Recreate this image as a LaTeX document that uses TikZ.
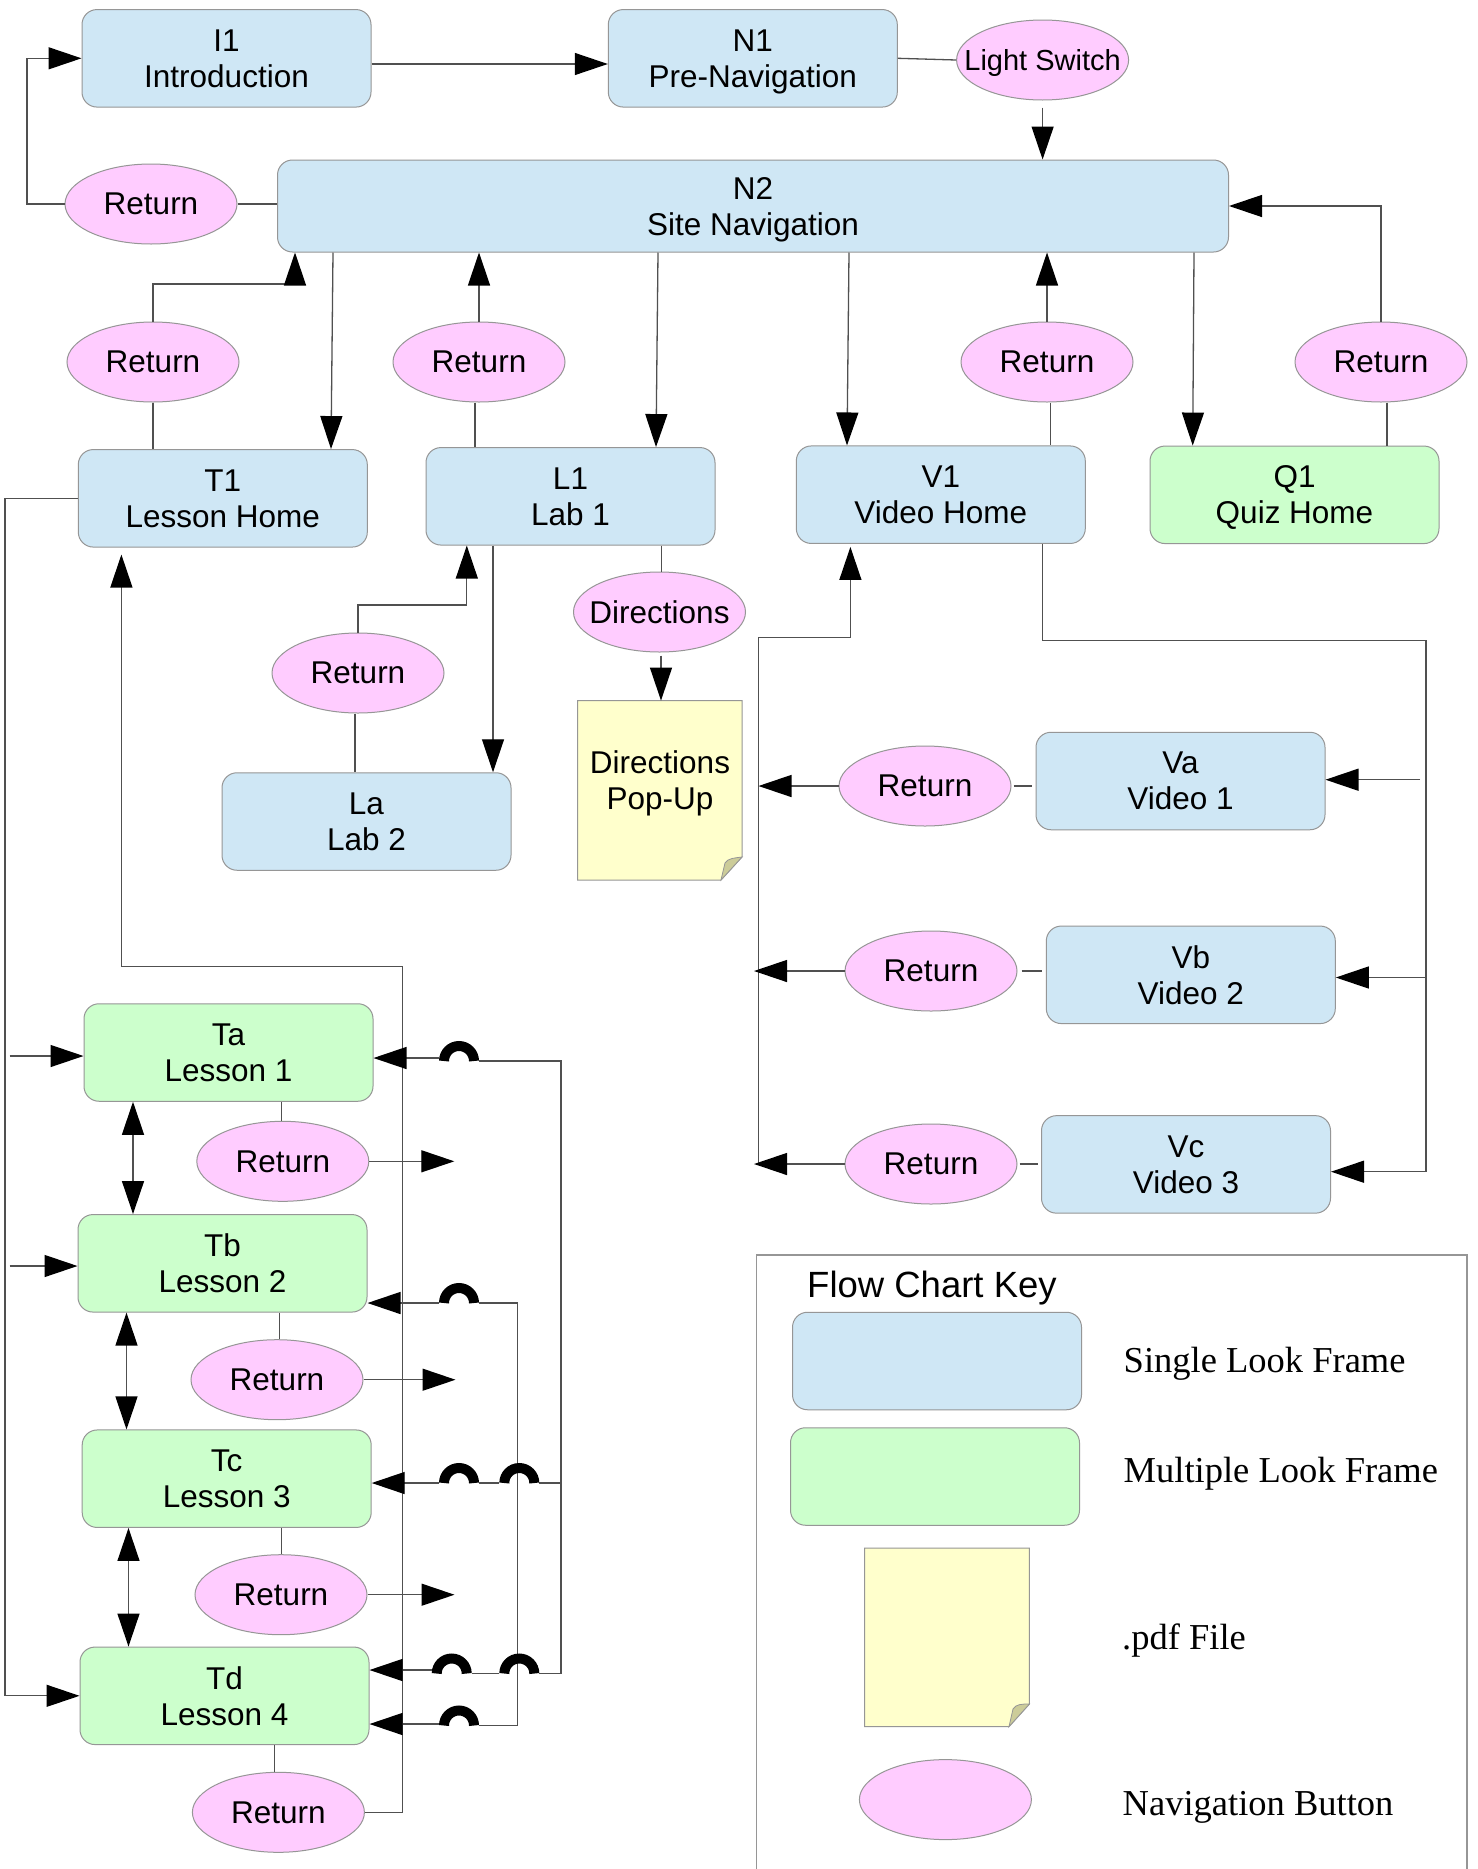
\documentclass[tikz,border=0pt]{standalone}
\usepackage{fontspec}
\setsansfont{Liberation Sans}
\newfontfamily\keyserif{Liberation Serif}
\usetikzlibrary{arrows.meta,shapes.geometric}
\definecolor{boxblue}{RGB}{207,231,245}
\definecolor{boxgreen}{RGB}{204,255,204}
\definecolor{btnpink}{RGB}{255,204,255}
\definecolor{docyellow}{RGB}{255,255,204}
\definecolor{foldtan}{RGB}{204,204,153}
\definecolor{bordergray}{RGB}{150,150,150}
\definecolor{linegray}{RGB}{80,80,80}
\newcommand\boxfont{\sffamily\fontsize{31.5}{36}\selectfont}
\newcommand\lsfont{\sffamily\fontsize{29}{34}\selectfont}
\newcommand\titlefont{\sffamily\fontsize{36.5}{42}\selectfont}
\newcommand\keyfont{\keyserif\fontsize{36.5}{42}\selectfont}
\newcommand\btn[1]{\makebox[0pt][c]{#1}}
\newcommand\jumparc[2]{\draw[jump] (#1-15,#2) .. controls (#1-15,#2-8.3) and (#1-8.3,#2-15) .. (#1,#2-15) .. controls (#1+8.3,#2-15) and (#1+15,#2-8.3) .. (#1+15,#2);}
\tikzset{
  fr/.style={rounded corners=15pt, draw=bordergray, line width=1pt, minimum width=289pt, minimum height=97.5pt, inner sep=0pt, align=center, font=\boxfont, text depth=0pt},
  single/.style={fr, fill=boxblue},
  multi/.style={fr, fill=boxgreen},
  navbtn/.style={ellipse, draw=bordergray, line width=1pt, fill=btnpink, minimum width=172pt, minimum height=80pt, inner sep=0pt, font=\boxfont, text depth=0pt},
  ln/.style={draw=linegray, line width=1.3pt},
  arr/.style={ln, -{Triangle[length=33pt,width=22pt,color=black]}},
  dbl/.style={ln, {Triangle[length=33pt,width=22pt,color=black]}-{Triangle[length=33pt,width=22pt,color=black]}},
  jump/.style={draw=black, line width=10pt, line cap=butt},
  docshape/.style={fill=docyellow, draw=bordergray, line width=1pt},
  foldshape/.style={fill=foldtan, draw=bordergray, line width=0.8pt},
  keyframe/.style={draw=bordergray, line width=1.5pt},
  keytxt/.style={anchor=base west, font=\keyfont, inner sep=0pt}
}
\begin{document}
\begin{tikzpicture}[x=1pt,y=-1pt]
\fill[white] (0,0) rectangle (1478,1869);
\useasboundingbox (0,0) rectangle (1478,1869);

% ---------- nodes ----------
\node[single] (I1) at (226.5,58.3) {I1\\Introduction};
\node[single] (N1) at (752.8,58.3) {N1\\Pre-Navigation};
\node[navbtn, font=\lsfont] (LS) at (1042.6,60) {\btn{Light Switch}};
\node[single, minimum width=951pt, minimum height=92pt] (N2) at (753,206) {N2\\Site Navigation};
\node[navbtn] (RN2) at (151,204) {\btn{Return}};
\node[navbtn] (RT1) at (153,362) {\btn{Return}};
\node[navbtn] (RL1) at (479,362) {\btn{Return}};
\node[navbtn] (RV1) at (1047,362) {\btn{Return}};
\node[navbtn] (RQ1) at (1381,362) {\btn{Return}};
\node[single] (T1) at (222.8,498.3) {T1\\Lesson Home};
\node[single] (L1) at (570.5,496.3) {L1\\Lab 1};
\node[single] (V1) at (940.8,494.7) {V1\\Video Home};
\node[multi] (Q1) at (1294.5,494.8) {Q1\\Quiz Home};
\node[navbtn] (Dir) at (659.5,612) {\btn{Directions}};
\node[navbtn] (RLa) at (358,673) {\btn{Return}};
\node[single] (La) at (366.5,821.5) {La\\Lab 2};
\node[single] (Va) at (1180.5,781) {Va\\Video 1};
\node[navbtn] (RVa) at (925,786) {\btn{Return}};
\node[single] (Vb) at (1190.8,974.8) {Vb\\Video 2};
\node[navbtn] (RVb) at (931,971) {\btn{Return}};
\node[single] (Vc) at (1186,1164.4) {Vc\\Video 3};
\node[navbtn] (RVc) at (931,1164) {\btn{Return}};
\node[multi] (Ta) at (228.5,1052.5) {Ta\\Lesson 1};
\node[navbtn] (RTa) at (282.8,1161.3) {\btn{Return}};
\node[multi] (Tb) at (222.5,1263.3) {Tb\\Lesson 2};
\node[navbtn] (RTb) at (277,1379.7) {\btn{Return}};
\node[multi] (Tc) at (226.7,1478.7) {Tc\\Lesson 3};
\node[navbtn] (RTc) at (281,1594.7) {\btn{Return}};
\node[multi] (Td) at (224.5,1695.8) {Td\\Lesson 4};
\node[navbtn] (RTd) at (278.4,1812.3) {\btn{Return}};

% pop-up document
\filldraw[docshape] (577.7,700.7) -- (742,700.7) -- (742,857) -- (721,880) -- (577.7,880) -- cycle;
\filldraw[foldshape] (742,857) -- (721,880) -- (725,863) .. controls (728,858) and (735,858) .. cycle;
\node[minimum width=164pt, minimum height=179.3pt, inner sep=0pt] (PU) at (659.9,790.4) {};
\node[align=center, font=\boxfont, text depth=0pt] (PUt) at (660,780) {Directions\\Pop-Up};

% ---------- connectors: top ----------
\draw[arr] (I1.east |- 0,64) -- (N1.west |- 0,64);
\draw[ln] (N1.east) -- (LS.west);
\draw[arr, shorten <=7pt] (LS.south) -- (LS.south |- N2.north);
\draw[ln] (RN2.east) -- (N2.west |- RN2.east);
\coordinate (rn2c) at (27,204);
\draw[arr] (RN2.west) -- (rn2c) |- (I1.west);
\coordinate (rt1c) at (295,284);
\draw[arr] (RT1.north) |- (rt1c) -- (N2.south -| rt1c);
\draw[arr] (N2.south -| 333,0) -- (T1.north -| 331,0);
\draw[ln] (RT1.south) -- (RT1.south |- T1.north);
\draw[arr] (RL1.north) -- (RL1.north |- N2.south);
\draw[ln] (RL1.south -| 475,0) -- (L1.north -| 475,0);
\draw[arr] (N2.south -| 658,0) -- (L1.north -| 656,0);
\draw[ln] (L1.south -| 661.4,0) -- (Dir.north -| 661.4,0);
\draw[arr, shorten <=3pt] (Dir.south -| 661,0) -- (PU.north -| 661,0);
\draw[arr] (L1.south -| 493,0) -- (La.north -| 493,0);
\coordinate (rlac) at (466.8,605);
\draw[arr] (RLa.north) |- (rlac) -- (L1.south -| rlac);
\draw[ln] (RLa.south -| 355,0) -- (La.north -| 355,0);

% ---------- lessons ----------
\coordinate (lv) at (5,498.3);
\draw[arr] (T1.west) -- (lv) |- (Td.west);
\draw[arr] (9.6,1056) -- (Ta.west |- 0,1056);
\draw[arr] (9.6,1266) -- (Tb.west |- 0,1266);
\draw[dbl] (Ta.south -| 133,0) -- (Tb.north -| 133,0);
\draw[dbl] (Tb.south -| 126.5,0) -- (Tc.north -| 126.5,0);
\draw[dbl] (Tc.south -| 128.5,0) -- (Td.north -| 128.5,0);
\draw[ln] (Ta.south -| 281.3,0) -- (RTa.north -| 281.3,0);
\draw[ln] (Tb.south -| 279.4,0) -- (RTb.north -| 279.4,0);
\draw[ln] (Tc.south -| 281.3,0) -- (RTc.north -| 281.3,0);
\draw[ln] (Td.south -| 274.8,0) -- (RTd.north -| 274.8,0);
\draw[arr] (RTa.east) -- ++(85,0) coordinate (fa);
\draw[arr] (RTb.east) -- ++(92,0) coordinate (fb);
\draw[arr] (RTc.east) -- ++(87,0) coordinate (fc);
\coordinate (tdc) at (402.6,966.8);
\draw[arr, shorten >=7pt] (RTd.east) -| (tdc) -| (T1.south -| 121.4,0);

% crossing lines with jumps
\coordinate (A1) at (561,1061);
\coordinate (A2) at (561,1673.5);
\coordinate (B1) at (517.3,1303);
\coordinate (B2) at (517.3,1725.5);
\draw[ln] (479,1061) -- (A1) -- (A2) -- (539.3,1673.5);
\draw[ln] (479,1303) -- (B1) -- (B2) -- (479,1725.5);
\jumparc{459}{1061}
\draw[arr] (439,1058) -- (Ta.east |- 0,1058);
\jumparc{459}{1303}
\draw[arr] (439,1303) -- (Tb.east |- 0,1303);
\draw[ln] (A1 |- 0,1483) -- (539.3,1483);
\jumparc{519.3}{1483}
\draw[ln] (499.3,1483) -- (479,1483);
\jumparc{459}{1483}
\draw[arr] (439,1483) -- (Tc.east |- 0,1483);
\jumparc{519.3}{1673.5}
\draw[ln] (499.3,1673.5) -- (471.7,1673.5);
\jumparc{451.7}{1673.5}
\draw[arr] (431.7,1670) -- (Td.east |- 0,1670);
\jumparc{459}{1725.5}
\draw[arr] (439,1724) -- (Td.east |- 0,1724);

% ---------- video / quiz ----------
\draw[arr] (N2.south -| 849,0) -- (V1.north -| 847,0);
\draw[arr] (RV1.north) -- (RV1.north |- N2.south);
\draw[ln] (RV1.south -| 1050.6,0) -- (V1.north -| 1050.6,0);
\draw[arr] (N2.south -| 1194,0) -- (Q1.north -| 1192.7,0);
\draw[arr] (RQ1.north) |- (N2.east);
\draw[ln] (RQ1.south -| 1387,0) -- (Q1.north -| 1387,0);
\coordinate (cv1) at (758.5,1165);
\coordinate (cv2) at (758.5,637.3);
\draw[arr, shorten >=3pt] (cv1) -- (cv2) -| (V1.south -| 850.4,0);
\draw[arr] (RVa.west) -- (RVa.west -| 758.5,0);
\draw[arr] (RVb.west) -- (RVb.west -| 754,0);
\draw[arr] (RVc.west) -- (RVc.west -| 754,0);
\draw[ln, shorten <=2pt, shorten >=4pt] (RVa.east) -- (Va.west |- RVa.east);
\draw[ln, shorten <=4pt, shorten >=4pt] (RVb.east) -- (Vb.west |- RVb.east);
\draw[ln, shorten <=2pt, shorten >=3pt] (RVc.east) -- (Vc.west |- RVc.east);
\coordinate (vr) at (1426,640.4);
\draw[arr] (V1.south -| 1042.4,0) |- (vr) |- (Vc.east |- 0,1171.7);
\draw[arr] (1426,977.5) -- (Vb.east |- 0,977.5);
\draw[arr] (1420,779.7) -- (Va.east |- 0,779.7);

% ---------- key ----------
\draw[keyframe] (756.5,1869) -- (756.5,1255.2) -- (1467,1255.2) -- (1467,1869);
\node[anchor=base west, font=\titlefont, inner sep=0pt] (KT) at (807,1297) {Flow Chart Key};
\node[fr, fill=boxblue] (K1) at (937,1361) {};
\node[fr, fill=boxgreen] (K2) at (935,1476.5) {};
\filldraw[docshape] (864.7,1548) -- (1029.4,1548) -- (1029.4,1704) -- (1009,1726.6) -- (864.7,1726.6) -- cycle;
\filldraw[foldshape] (1029.4,1704) -- (1009,1726.6) -- (1013,1709) .. controls (1016,1704) and (1022,1704) .. cycle;
\node[minimum width=164.7pt, minimum height=178.6pt, inner sep=0pt] (K3) at (947,1637.3) {};
\node[navbtn] (K4) at (945.4,1799.6) {};
\node[keytxt] (K1t) at (1123.5,1372.4) {Single Look Frame};
\node[keytxt] (K2t) at (1123.5,1482.7) {Multiple Look Frame};
\node[keytxt] (K3t) at (1122,1649) {.pdf File};
\node[keytxt] (K4t) at (1122.5,1815.6) {Navigation Button};
\end{tikzpicture}
\end{document}
